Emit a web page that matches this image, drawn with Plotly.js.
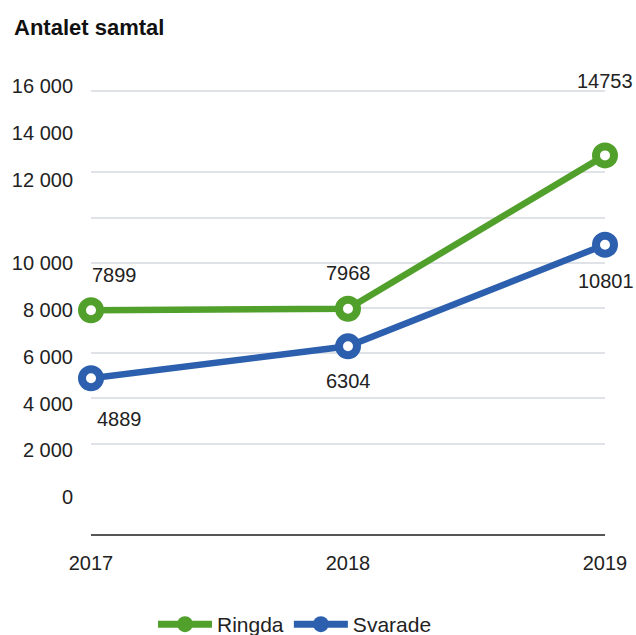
<!DOCTYPE html>
<html>
<head>
<meta charset="utf-8">
<script src="https://cdn.plot.ly/plotly-3.0.1.min.js"></script>
<style>html,body{margin:0;padding:0;background:#fff;}#chart{width:636px;height:635px;}</style>
</head>
<body>
<div id="chart"></div>
<script>
// ---- data ----
var years = ['2017', '2018', '2019'];
var ringda = [7899, 7968, 14753];
var svarade = [4889, 6304, 10801];
var seriesNames = ['Ringda', 'Svarade'];
var tickLabels = ['0', '2 000', '4 000', '6 000', '8 000', '10 000', '12 000', '14 000', '16 000'];
var chartTitle = 'Antalet samtal';

// ---- layout helpers (positions / styles) ----
var tickLabelPos = [-371, 1707, 3741, 5832, 7899, 9989, 13677, 15737, 17802];
var gridVals = [2000, 4000, 6000, 8000, 10000, 12000, 14000, 17600];
var green = '#52a02c', blue = '#2c60ae', textCol = '#222222';
var font = 'Liberation Sans, Arial, sans-serif';

// label offsets per point (px)
var ringdaOff = [{xa:'left', dx:-1.5, dy:35}, {xa:'center', dx:0.5, dy:36}, {xa:'center', dx:0, dy:74}];
var svaradeOff = [{xa:'left', dx:3.5, dy:-40.5}, {xa:'center', dx:0, dy:-35}, {xa:'center', dx:1, dy:-36.5}];

function trace(name, vals, color) {
  return {
    type: 'scatter', mode: 'lines+markers', name: name, legendgroup: name, showlegend: false,
    x: years, y: vals, cliponaxis: false,
    line: {color: color, width: 6.5},
    marker: {symbol: 'circle', size: 18, color: '#ffffff', line: {color: color, width: 8}},
    hoverinfo: 'skip'
  };
}
function legendEntry(name, color) {
  return {
    type: 'scatter', mode: 'lines+markers', name: name, legendgroup: name, showlegend: true,
    x: [null], y: [null],
    line: {color: color, width: 7},
    marker: {symbol: 'circle', size: 16, color: color, line: {color: color, width: 0}},
    hoverinfo: 'skip'
  };
}

var annotations = [];
function addLabels(vals, offs) {
  vals.forEach(function (v, i) {
    annotations.push({
      x: i, y: v, xref: 'x', yref: 'y', text: String(v), showarrow: false,
      xanchor: offs[i].xa, yanchor: 'middle', xshift: offs[i].dx, yshift: offs[i].dy,
      font: {family: font, size: 20, color: textCol}
    });
  });
}
addLabels(ringda, ringdaOff);
addLabels(svarade, svaradeOff);

var yRange = [-2000, 18000];

var layout = {
  width: 636, height: 635,
  margin: {l: 91, r: 31, t: 82, b: 101, pad: 0, autoexpand: false},
  paper_bgcolor: '#ffffff', plot_bgcolor: '#ffffff',
  showlegend: true,
  title: {
    text: chartTitle, xref: 'container', yref: 'container',
    x: 14 / 636, xanchor: 'left', y: 1 - 27 / 635, yanchor: 'middle',
    font: {family: font, size: 22, color: '#111111', weight: 700}
  },
  xaxis: {
    type: 'category', range: [0, 2], fixedrange: true,
    showgrid: false, zeroline: false,
    showline: true, linecolor: '#555555', linewidth: 2,
    ticks: '', ticklabelstandoff: 10,
    tickfont: {family: font, size: 20, color: textCol}
  },
  yaxis: {
    range: yRange, fixedrange: true,
    tickmode: 'array', tickvals: gridVals, ticktext: gridVals.map(function () { return ''; }),
    showgrid: true, gridcolor: '#dfe2e6', gridwidth: 2,
    zeroline: false, showline: false, ticks: '', showticklabels: false
  },
  yaxis2: {
    overlaying: 'y', side: 'left', range: yRange, fixedrange: true,
    tickmode: 'array', tickvals: tickLabelPos, ticktext: tickLabels,
    showgrid: false, zeroline: false, showline: false, ticks: '',
    ticklabelstandoff: 17,
    tickfont: {family: font, size: 20, color: textCol}
  },
  legend: {
    orientation: 'h', xref: 'container', yref: 'container',
    x: 295 / 636, xanchor: 'center', y: 1 - 624.5 / 635, yanchor: 'middle',
    font: {family: font, size: 21, color: textCol},
    itemwidth: 54, tracegroupgap: 0, bgcolor: 'rgba(0,0,0,0)'
  },
  annotations: annotations
};

var t1 = trace(seriesNames[0], ringda, green);
var t2 = trace(seriesNames[1], svarade, blue);
var l1 = legendEntry(seriesNames[0], green);
var l2 = legendEntry(seriesNames[1], blue);
// invisible trace to show yaxis2 tick labels
var t3 = {type: 'scatter', x: years, y: [null, null, null], yaxis: 'y2', showlegend: false, hoverinfo: 'skip', mode: 'lines'};

Plotly.newPlot('chart', [t3, t1, t2, l1, l2], layout, {displayModeBar: false, staticPlot: true});
</script>
</body>
</html>
